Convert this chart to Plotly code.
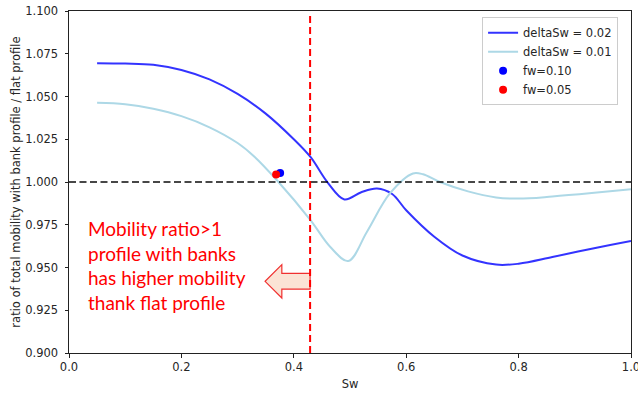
import plotly.graph_objects as go

# Total mobility ratio (bank profile / flat profile) versus water saturation
sw_d02 = [0.05, 0.10, 0.15, 0.20, 0.25, 0.30, 0.35, 0.40, 0.43, 0.46, 0.49,
          0.52, 0.548, 0.575, 0.60, 0.65, 0.70, 0.76, 0.80, 0.86, 0.93, 1.0]
ratio_d02 = [1.0695, 1.0693, 1.0686, 1.0655, 1.0600, 1.0515, 1.0400, 1.0250, 1.0145, 0.9998, 0.9898,
             0.9940, 0.9962, 0.9930, 0.9835, 0.9680, 0.9570, 0.9517, 0.9522, 0.9561, 0.9610, 0.9655]

sw_d01 = [0.05, 0.10, 0.15, 0.20, 0.25, 0.30, 0.33, 0.37, 0.43, 0.465,
          0.497, 0.53, 0.571, 0.612, 0.63, 0.66, 0.71, 0.76, 0.80, 0.86, 0.93, 1.0]
ratio_d01 = [1.0463, 1.0455, 1.0428, 1.0385, 1.0320, 1.0228, 1.0148, 1.0010, 0.9776, 0.9620,
             0.9538, 0.9708, 0.9933, 1.0050, 1.0045, 1.0000, 0.9945, 0.9910, 0.9903, 0.9915, 0.9935, 0.9958]

# Breakthrough points for two fractional-flow cut-offs
fw_labels = ["fw=0.10", "fw=0.05"]
fw_sw = [0.3757, 0.3685]
fw_ratio = [1.0052, 1.0044]
fw_colors = ["#0000ff", "#ff0000"]

sw_front = 0.429
x_ticks = [0.0, 0.2, 0.4, 0.6, 0.8, 1.0]
y_ticks = [0.900, 0.925, 0.950, 0.975, 1.000, 1.025, 1.050, 1.075, 1.100]

note = "Mobility ratio>1<br>profile with banks<br>has higher mobility<br>thank flat profile"

fig = go.Figure()
fig.add_trace(go.Scatter(x=sw_d02, y=ratio_d02, mode="lines", name="deltaSw = 0.02",
                         line=dict(color="rgba(0,0,255,0.8)", width=2, shape="spline", smoothing=1.0)))
fig.add_trace(go.Scatter(x=sw_d01, y=ratio_d01, mode="lines", name="deltaSw = 0.01",
                         line=dict(color="#add8e6", width=2, shape="spline", smoothing=1.0)))
for lab, xs, ys, c in zip(fw_labels, fw_sw, fw_ratio, fw_colors):
    fig.add_trace(go.Scatter(x=[xs], y=[ys], mode="markers", name=lab,
                             marker=dict(color=c, size=8, line=dict(width=0))))

# reference level and saturation front
fig.add_shape(type="line", xref="paper", yref="y", x0=0, x1=1, y0=1.0, y1=1.0,
              line=dict(color="rgba(0,0,0,0.72)", width=2, dash="7px,3.5px"), layer="above")
fig.add_shape(type="line", xref="x", yref="paper", x0=sw_front, x1=sw_front, y0=0, y1=0.988,
              line=dict(color="#ff0000", width=2, dash="7px,4px"), layer="above")

# block arrow pointing toward lower saturation
tip_x, base_x, yc = 0.3489, 0.3787, 0.94192
head_h, shaft_h = 0.00978, 0.00460
arrow = (f"M {sw_front},{yc + shaft_h} L {base_x},{yc + shaft_h} L {base_x},{yc + head_h} "
         f"L {tip_x},{yc} L {base_x},{yc - head_h} L {base_x},{yc - shaft_h} "
         f"L {sw_front},{yc - shaft_h} Z")
fig.add_shape(type="path", path=arrow, xref="x", yref="y",
              fillcolor="#fbe3d5", line=dict(color="#f03030", width=1.2), layer="below")

fig.add_annotation(x=0.030, y=0.9512, xref="x", yref="y", text=note, showarrow=False,
                   xanchor="left", yanchor="middle", align="left",
                   font=dict(family="Lato", size=19, color="#ff0000"))

axis_common = dict(showgrid=False, zeroline=False, showline=True, linecolor="#222",
                   linewidth=1, mirror=True, ticks="outside", ticklen=3.5, tickwidth=1,
                   tickcolor="#222", ticklabeloverflow="allow", automargin=False,
                   tickfont=dict(family="DejaVu Sans", size=11.5, color="#262626"))

fig.update_xaxes(range=[0, 1], tickvals=x_ticks, tickformat=".1f",
                 title=dict(text="Sw", font=dict(family="DejaVu Sans", size=11.5, color="#262626"),
                            standoff=6), **axis_common)
fig.update_yaxes(range=[0.9, 1.1], tickvals=y_ticks, tickformat=".3f", ticklabelstandoff=4,
                 title=dict(text="ratio of total mobility with bank profile / flat profile",
                            font=dict(family="DejaVu Sans", size=11.5, color="#262626"),
                            standoff=2), **axis_common)

fig.update_layout(
    width=638, height=394,
    margin=dict(l=69, r=7, t=11, b=41, autoexpand=False),
    paper_bgcolor="white", plot_bgcolor="white",
    showlegend=True,
    legend=dict(x=0.977, y=0.982, xanchor="right", yanchor="top",
                bgcolor="rgba(255,255,255,0.85)", bordercolor="#cccccc", borderwidth=1,
                font=dict(family="DejaVu Sans", size=11.5, color="#262626"),
                tracegroupgap=0),
)

fig.write_html("out.html")
